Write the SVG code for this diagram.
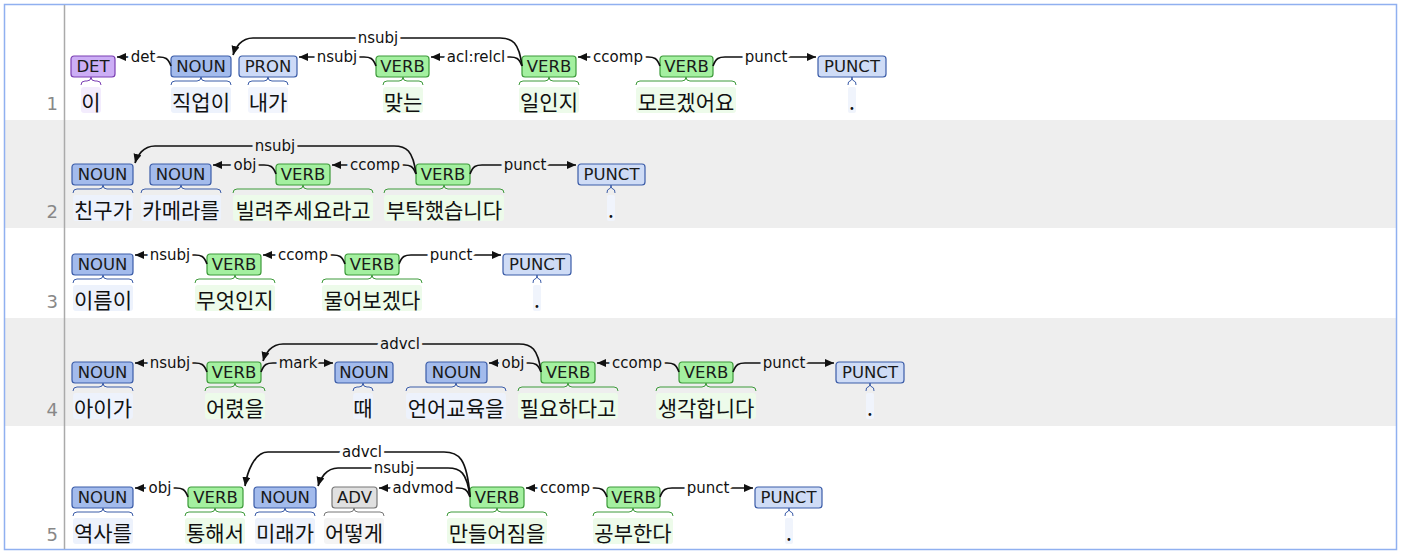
<svg xmlns="http://www.w3.org/2000/svg" width="1402" height="554" viewBox="0 0 1402 554">
<style>
.tag{font-family:"DejaVu Sans",sans-serif;font-size:16.5px;text-anchor:middle;fill:#1a1a1a}
.w{font-family:"Noto Sans CJK KR",sans-serif;font-size:21px;text-anchor:middle;fill:#111}
.lb{font-family:"DejaVu Sans",sans-serif;font-size:15px;text-anchor:middle;fill:#111;paint-order:stroke;stroke-width:7px;stroke-linejoin:round}
.wh .lb{stroke:#fff}.gr .lb{stroke:#eeeeee}
.arc{fill:none;stroke:#111;stroke-width:1.7;marker-end:url(#ah)}
.num{font-family:"DejaVu Sans",sans-serif;font-size:18px;fill:#888;text-anchor:end}
.br{fill:none;stroke-width:1}
.DET rect.b{fill:#ccaef5;stroke:#7b3fb3}.DET .br{stroke:#7b3fb3}.DET rect.wb{fill:#f3ecfd}
.NOUN rect.b{fill:#a3bbec;stroke:#3b5ca8}.NOUN .br{stroke:#3b5ca8}.NOUN rect.wb{fill:#edf2fc}
.PRON rect.b{fill:#cddaf7;stroke:#3b5ca8}.PRON .br{stroke:#3b5ca8}.PRON rect.wb{fill:#f2f5fd}
.VERB rect.b{fill:#a4f0a0;stroke:#3d9a3a}.VERB .br{stroke:#3d9a3a}.VERB rect.wb{fill:#edfbea}
.PUNCT rect.b{fill:#cfdcf6;stroke:#3b5ca8}.PUNCT .br{stroke:#3b5ca8}.PUNCT rect.wb{fill:#f0f4fc}
.ADV rect.b{fill:#e0e0e0;stroke:#777}.ADV .br{stroke:#777}.ADV rect.wb{fill:#f4f4f4}
rect.b{stroke-width:1.2}
</style>
<defs><marker id="ah" markerUnits="userSpaceOnUse" markerWidth="10" markerHeight="10" refX="9" refY="4" orient="auto"><path d="M0,0 L9,4 L0,8 Z" fill="#111"/></marker></defs>
<rect x="0" y="0" width="1402" height="554" fill="#fff"/>
<rect x="4" y="120" width="1392" height="108" fill="#eeeeee"/>
<rect x="4" y="318" width="1392" height="108" fill="#eeeeee"/>
<rect x="4.5" y="4.5" width="1392" height="545" fill="none" stroke="#90b0f0" stroke-width="1.5"/>
<line x1="64.5" y1="5" x2="64.5" y2="549" stroke="#aaa" stroke-width="1.5"/>

<g class="wh" transform="translate(0,56)">
<text class="num" x="58" y="54">1</text>
<g id="s1t1" class="DET"><rect class="wb" x="81" y="31" width="20" height="26" rx="3"/><rect class="b" x="71" y="0" width="44" height="21" rx="3"/><text class="tag" x="93" y="16">DET</text><path class="br" d="M81,29 Q81,25 85,25 L87,25 Q91,25 91,21 Q91,25 95,25 L97,25 Q101,25 101,29"/><text class="w" x="91" y="54">이</text></g>
<g id="s1t2" class="NOUN"><rect class="wb" x="171" y="31" width="60" height="26" rx="3"/><rect class="b" x="171" y="0" width="60" height="21" rx="3"/><text class="tag" x="201" y="16">NOUN</text><path class="br" d="M171,29 Q171,25 175,25 L197,25 Q201,25 201,21 Q201,25 205,25 L227,25 Q231,25 231,29"/><text class="w" x="201" y="54">직업이</text></g>
<g id="s1t3" class="PRON"><rect class="wb" x="248" y="31" width="40" height="26" rx="3"/><rect class="b" x="239" y="0" width="58" height="21" rx="3"/><text class="tag" x="268" y="16">PRON</text><path class="br" d="M248,29 Q248,25 252,25 L264,25 Q268,25 268,21 Q268,25 272,25 L284,25 Q288,25 288,29"/><text class="w" x="268" y="54">내가</text></g>
<g id="s1t4" class="VERB"><rect class="wb" x="383" y="31" width="40" height="26" rx="3"/><rect class="b" x="376" y="0" width="53" height="21" rx="3"/><text class="tag" x="402.5" y="16">VERB</text><path class="br" d="M383,29 Q383,25 387,25 L399,25 Q403,25 403,21 Q403,25 407,25 L419,25 Q423,25 423,29"/><text class="w" x="403" y="54">맞는</text></g>
<g id="s1t5" class="VERB"><rect class="wb" x="519" y="31" width="60" height="26" rx="3"/><rect class="b" x="522" y="0" width="54" height="21" rx="3"/><text class="tag" x="549" y="16">VERB</text><path class="br" d="M519,29 Q519,25 523,25 L545,25 Q549,25 549,21 Q549,25 553,25 L575,25 Q579,25 579,29"/><text class="w" x="549" y="54">일인지</text></g>
<g id="s1t6" class="VERB"><rect class="wb" x="636" y="31" width="100" height="26" rx="3"/><rect class="b" x="660" y="0" width="53" height="21" rx="3"/><text class="tag" x="686.5" y="16">VERB</text><path class="br" d="M636,29 Q636,25 640,25 L682,25 Q686,25 686,21 Q686,25 690,25 L732,25 Q736,25 736,29"/><text class="w" x="686" y="54">모르겠어요</text></g>
<g id="s1t7" class="PUNCT"><rect class="wb" x="848" y="31" width="8" height="26" rx="2"/><rect class="b" x="818" y="0" width="68" height="21" rx="3"/><text class="tag" x="852" y="16">PUNCT</text><path class="br" d="M848,29 Q848,25 850,25 Q852,25 852,21 Q852,25 854,25 Q856,25 856,29"/><text class="w" x="852" y="54">.</text></g>
<g id="s1arcs">
<path class="arc" d="M171,10 C168,2 165,1 159,1 L117,1"/><text class="lb" x="143" y="6">det</text>
<path class="arc" d="M376,10 C373,2 370,1 364,1 L299,1"/><text class="lb" x="337" y="6">nsubj</text>
<path class="arc" d="M522,10 C519,2 516,1 510,1 L431,1"/><text class="lb" x="476" y="6">acl:relcl</text>
<path class="arc" d="M522,10 C519,-14 512,-18 500,-18 L253,-18 C241,-18 235,-8 233,-1"/><text class="lb" x="378" y="-13">nsubj</text>
<path class="arc" d="M660,10 C657,2 654,1 648,1 L578,1"/><text class="lb" x="618" y="6">ccomp</text>
<path class="arc" d="M713,10 C716,2 719,1 725,1 L816,1"/><text class="lb" x="766" y="6">punct</text>
</g></g>

<g class="gr" transform="translate(0,164)">
<text class="num" x="58" y="54">2</text>
<g id="s2t1" class="NOUN"><rect class="wb" x="73" y="31" width="60" height="26" rx="3"/><rect class="b" x="72" y="0" width="61" height="21" rx="3"/><text class="tag" x="102.5" y="16">NOUN</text><path class="br" d="M73,29 Q73,25 77,25 L99,25 Q103,25 103,21 Q103,25 107,25 L129,25 Q133,25 133,29"/><text class="w" x="103" y="54">친구가</text></g>
<g id="s2t2" class="NOUN"><rect class="wb" x="141" y="31" width="80" height="26" rx="3"/><rect class="b" x="150" y="0" width="61" height="21" rx="3"/><text class="tag" x="180.5" y="16">NOUN</text><path class="br" d="M141,29 Q141,25 145,25 L177,25 Q181,25 181,21 Q181,25 185,25 L217,25 Q221,25 221,29"/><text class="w" x="181" y="54">카메라를</text></g>
<g id="s2t3" class="VERB"><rect class="wb" x="233" y="31" width="140" height="26" rx="3"/><rect class="b" x="276" y="0" width="54" height="21" rx="3"/><text class="tag" x="303" y="16">VERB</text><path class="br" d="M233,29 Q233,25 237,25 L299,25 Q303,25 303,21 Q303,25 307,25 L369,25 Q373,25 373,29"/><text class="w" x="303" y="54">빌려주세요라고</text></g>
<g id="s2t4" class="VERB"><rect class="wb" x="384" y="31" width="120" height="26" rx="3"/><rect class="b" x="416" y="0" width="54" height="21" rx="3"/><text class="tag" x="443" y="16">VERB</text><path class="br" d="M384,29 Q384,25 388,25 L440,25 Q444,25 444,21 Q444,25 448,25 L500,25 Q504,25 504,29"/><text class="w" x="444" y="54">부탁했습니다</text></g>
<g id="s2t5" class="PUNCT"><rect class="wb" x="607" y="31" width="8" height="26" rx="2"/><rect class="b" x="578" y="0" width="67" height="21" rx="3"/><text class="tag" x="611.5" y="16">PUNCT</text><path class="br" d="M607,29 Q607,25 609,25 Q611,25 611,21 Q611,25 613,25 Q615,25 615,29"/><text class="w" x="611" y="54">.</text></g>
<g id="s2arcs">
<path class="arc" d="M276,10 C273,2 270,1 264,1 L213,1"/><text class="lb" x="245" y="6">obj</text>
<path class="arc" d="M416,10 C413,2 410,1 404,1 L332,1"/><text class="lb" x="375" y="6">ccomp</text>
<path class="arc" d="M416,10 C413,-14 406,-18 394,-18 L155,-18 C143,-18 137,-8 135,-1"/><text class="lb" x="275" y="-13">nsubj</text>
<path class="arc" d="M470,10 C473,2 476,1 482,1 L576,1"/><text class="lb" x="525" y="6">punct</text>
</g></g>

<g class="wh" transform="translate(0,254)">
<text class="num" x="58" y="54">3</text>
<g id="s3t1" class="NOUN"><rect class="wb" x="73" y="31" width="60" height="26" rx="3"/><rect class="b" x="72" y="0" width="61" height="21" rx="3"/><text class="tag" x="102.5" y="16">NOUN</text><path class="br" d="M73,29 Q73,25 77,25 L99,25 Q103,25 103,21 Q103,25 107,25 L129,25 Q133,25 133,29"/><text class="w" x="103" y="54">이름이</text></g>
<g id="s3t2" class="VERB"><rect class="wb" x="195" y="31" width="80" height="26" rx="3"/><rect class="b" x="207" y="0" width="54" height="21" rx="3"/><text class="tag" x="234" y="16">VERB</text><path class="br" d="M195,29 Q195,25 199,25 L231,25 Q235,25 235,21 Q235,25 239,25 L271,25 Q275,25 275,29"/><text class="w" x="235" y="54">무엇인지</text></g>
<g id="s3t3" class="VERB"><rect class="wb" x="322" y="31" width="100" height="26" rx="3"/><rect class="b" x="345" y="0" width="54" height="21" rx="3"/><text class="tag" x="372" y="16">VERB</text><path class="br" d="M322,29 Q322,25 326,25 L368,25 Q372,25 372,21 Q372,25 376,25 L418,25 Q422,25 422,29"/><text class="w" x="372" y="54">물어보겠다</text></g>
<g id="s3t4" class="PUNCT"><rect class="wb" x="533" y="31" width="8" height="26" rx="2"/><rect class="b" x="503" y="0" width="68" height="21" rx="3"/><text class="tag" x="537" y="16">PUNCT</text><path class="br" d="M533,29 Q533,25 535,25 Q537,25 537,21 Q537,25 539,25 Q541,25 541,29"/><text class="w" x="537" y="54">.</text></g>
<g id="s3arcs">
<path class="arc" d="M207,10 C204,2 201,1 195,1 L135,1"/><text class="lb" x="170" y="6">nsubj</text>
<path class="arc" d="M345,10 C342,2 339,1 333,1 L263,1"/><text class="lb" x="303" y="6">ccomp</text>
<path class="arc" d="M399,10 C402,2 405,1 411,1 L501,1"/><text class="lb" x="451" y="6">punct</text>
</g></g>

<g class="gr" transform="translate(0,362)">
<text class="num" x="58" y="54">4</text>
<g id="s4t1" class="NOUN"><rect class="wb" x="73" y="31" width="60" height="26" rx="3"/><rect class="b" x="72" y="0" width="61" height="21" rx="3"/><text class="tag" x="102.5" y="16">NOUN</text><path class="br" d="M73,29 Q73,25 77,25 L99,25 Q103,25 103,21 Q103,25 107,25 L129,25 Q133,25 133,29"/><text class="w" x="103" y="54">아이가</text></g>
<g id="s4t2" class="VERB"><rect class="wb" x="205" y="31" width="60" height="26" rx="3"/><rect class="b" x="207" y="0" width="54" height="21" rx="3"/><text class="tag" x="234" y="16">VERB</text><path class="br" d="M205,29 Q205,25 209,25 L231,25 Q235,25 235,21 Q235,25 239,25 L261,25 Q265,25 265,29"/><text class="w" x="235" y="54">어렸을</text></g>
<g id="s4t3" class="NOUN"><rect class="wb" x="353" y="31" width="20" height="26" rx="3"/><rect class="b" x="335" y="0" width="58" height="21" rx="3"/><text class="tag" x="364" y="16">NOUN</text><path class="br" d="M353,29 Q353,25 357,25 L359,25 Q363,25 363,21 Q363,25 367,25 L369,25 Q373,25 373,29"/><text class="w" x="363" y="54">때</text></g>
<g id="s4t4" class="NOUN"><rect class="wb" x="406" y="31" width="100" height="26" rx="3"/><rect class="b" x="426" y="0" width="61" height="21" rx="3"/><text class="tag" x="456.5" y="16">NOUN</text><path class="br" d="M406,29 Q406,25 410,25 L452,25 Q456,25 456,21 Q456,25 460,25 L502,25 Q506,25 506,29"/><text class="w" x="456" y="54">언어교육을</text></g>
<g id="s4t5" class="VERB"><rect class="wb" x="518" y="31" width="100" height="26" rx="3"/><rect class="b" x="541" y="0" width="54" height="21" rx="3"/><text class="tag" x="568" y="16">VERB</text><path class="br" d="M518,29 Q518,25 522,25 L564,25 Q568,25 568,21 Q568,25 572,25 L614,25 Q618,25 618,29"/><text class="w" x="568" y="54">필요하다고</text></g>
<g id="s4t6" class="VERB"><rect class="wb" x="656" y="31" width="100" height="26" rx="3"/><rect class="b" x="679" y="0" width="54" height="21" rx="3"/><text class="tag" x="706" y="16">VERB</text><path class="br" d="M656,29 Q656,25 660,25 L702,25 Q706,25 706,21 Q706,25 710,25 L752,25 Q756,25 756,29"/><text class="w" x="706" y="54">생각합니다</text></g>
<g id="s4t7" class="PUNCT"><rect class="wb" x="866" y="31" width="8" height="26" rx="2"/><rect class="b" x="836" y="0" width="68" height="21" rx="3"/><text class="tag" x="870" y="16">PUNCT</text><path class="br" d="M866,29 Q866,25 868,25 Q870,25 870,21 Q870,25 872,25 Q874,25 874,29"/><text class="w" x="870" y="54">.</text></g>
<g id="s4arcs">
<path class="arc" d="M207,10 C204,2 201,1 195,1 L135,1"/><text class="lb" x="170" y="6">nsubj</text>
<path class="arc" d="M261,10 C264,2 267,1 273,1 L333,1"/><text class="lb" x="298" y="6">mark</text>
<path class="arc" d="M541,10 C538,2 535,1 529,1 L489,1"/><text class="lb" x="513" y="6">obj</text>
<path class="arc" d="M541,10 C538,-14 531,-18 519,-18 L283,-18 C271,-18 265,-8 263,-1"/><text class="lb" x="400" y="-13">advcl</text>
<path class="arc" d="M679,10 C676,2 673,1 667,1 L597,1"/><text class="lb" x="637" y="6">ccomp</text>
<path class="arc" d="M733,10 C736,2 739,1 745,1 L834,1"/><text class="lb" x="784" y="6">punct</text>
</g></g>

<g class="wh" transform="translate(0,487)">
<text class="num" x="58" y="54">5</text>
<g id="s5t1" class="NOUN"><rect class="wb" x="73" y="31" width="60" height="26" rx="3"/><rect class="b" x="72" y="0" width="61" height="21" rx="3"/><text class="tag" x="102.5" y="16">NOUN</text><path class="br" d="M73,29 Q73,25 77,25 L99,25 Q103,25 103,21 Q103,25 107,25 L129,25 Q133,25 133,29"/><text class="w" x="103" y="54">역사를</text></g>
<g id="s5t2" class="VERB"><rect class="wb" x="185" y="31" width="60" height="26" rx="3"/><rect class="b" x="188" y="0" width="55" height="21" rx="3"/><text class="tag" x="215.5" y="16">VERB</text><path class="br" d="M185,29 Q185,25 189,25 L211,25 Q215,25 215,21 Q215,25 219,25 L241,25 Q245,25 245,29"/><text class="w" x="215" y="54">통해서</text></g>
<g id="s5t3" class="NOUN"><rect class="wb" x="255" y="31" width="60" height="26" rx="3"/><rect class="b" x="254" y="0" width="62" height="21" rx="3"/><text class="tag" x="285" y="16">NOUN</text><path class="br" d="M255,29 Q255,25 259,25 L281,25 Q285,25 285,21 Q285,25 289,25 L311,25 Q315,25 315,29"/><text class="w" x="285" y="54">미래가</text></g>
<g id="s5t4" class="ADV"><rect class="wb" x="324" y="31" width="60" height="26" rx="3"/><rect class="b" x="332" y="0" width="45" height="21" rx="3"/><text class="tag" x="354.5" y="16">ADV</text><path class="br" d="M324,29 Q324,25 328,25 L350,25 Q354,25 354,21 Q354,25 358,25 L380,25 Q384,25 384,29"/><text class="w" x="354" y="54">어떻게</text></g>
<g id="s5t5" class="VERB"><rect class="wb" x="447" y="31" width="100" height="26" rx="3"/><rect class="b" x="470" y="0" width="54" height="21" rx="3"/><text class="tag" x="497" y="16">VERB</text><path class="br" d="M447,29 Q447,25 451,25 L493,25 Q497,25 497,21 Q497,25 501,25 L543,25 Q547,25 547,29"/><text class="w" x="497" y="54">만들어짐을</text></g>
<g id="s5t6" class="VERB"><rect class="wb" x="593" y="31" width="80" height="26" rx="3"/><rect class="b" x="607" y="0" width="53" height="21" rx="3"/><text class="tag" x="633.5" y="16">VERB</text><path class="br" d="M593,29 Q593,25 597,25 L629,25 Q633,25 633,21 Q633,25 637,25 L669,25 Q673,25 673,29"/><text class="w" x="633" y="54">공부한다</text></g>
<g id="s5t7" class="PUNCT"><rect class="wb" x="785" y="31" width="8" height="26" rx="2"/><rect class="b" x="755" y="0" width="67" height="21" rx="3"/><text class="tag" x="788.5" y="16">PUNCT</text><path class="br" d="M785,29 Q785,25 787,25 Q789,25 789,21 Q789,25 791,25 Q793,25 793,29"/><text class="w" x="789" y="54">.</text></g>
<g id="s5arcs">
<path class="arc" d="M188,10 C185,2 182,1 176,1 L135,1"/><text class="lb" x="160" y="6">obj</text>
<path class="arc" d="M470,10 C467,2 464,1 458,1 L379,1"/><text class="lb" x="423" y="6">advmod</text>
<path class="arc" d="M470,10 C467,-15 460,-19 448,-19 L338,-19 C326,-19 320,-8 318,-1"/><text class="lb" x="394" y="-14">nsubj</text>
<path class="arc" d="M470,10 C467,-30 458,-35 444,-35 L268,-35 C254,-35 247,-14 245,-1"/><text class="lb" x="362" y="-30">advcl</text>
<path class="arc" d="M607,10 C604,2 601,1 595,1 L526,1"/><text class="lb" x="565" y="6">ccomp</text>
<path class="arc" d="M660,10 C663,2 666,1 672,1 L753,1"/><text class="lb" x="708" y="6">punct</text>
</g></g>
</svg>
